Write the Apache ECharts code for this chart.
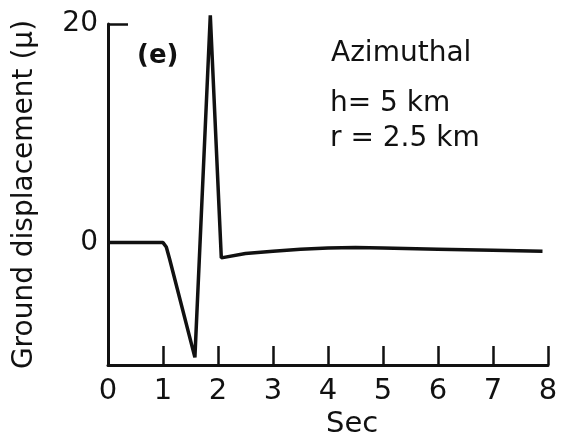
<!DOCTYPE html>
<html>
<head>
<meta charset="utf-8">
<script src="https://cdn.jsdelivr.net/npm/echarts@6/dist/echarts.min.js"></script>
<style>
  html, body { margin: 0; padding: 0; background: #fff; }
  #chart { width: 561px; height: 440px; }
</style>
</head>
<body>
<div id="chart"></div>
<script>
const timeSec = [0, 1.0, 1.06, 1.12, 1.58, 1.86, 2.06, 2.5, 3.0, 3.5, 4.0, 4.5, 5.0, 6.0, 7.0, 7.9];
const displacement = [0, 0, -0.4, -1.5, -10.5, 20.8, -1.4, -1.0, -0.8, -0.6, -0.5, -0.45, -0.5, -0.6, -0.7, -0.8];
const xTicks = [0, 1, 2, 3, 4, 5, 6, 7, 8];
const yLabels = [0, 20];

const font = '"DejaVu Sans", "Liberation Sans", sans-serif';
const chart = echarts.init(document.getElementById('chart'));

const trace = timeSec.map((t, i) => [t, displacement[i]]);

chart.setOption({
  backgroundColor: '#fff',
  animation: false,
  grid: { left: 108, right: 13, top: 24, bottom: 75, containLabel: false, outerBoundsMode: 'none' },
  xAxis: {
    type: 'value',
    min: xTicks[0],
    max: xTicks[xTicks.length - 1],
    interval: 1,
    splitLine: { show: false },
    axisLine: { onZero: false, lineStyle: { color: '#111', width: 3 } },
    axisTick: { inside: true, length: 19, lineStyle: { color: '#111', width: 2.5 } },
    axisLabel: { color: '#111', fontSize: 29, fontFamily: font, margin: 12 }
  },
  yAxis: {
    type: 'value',
    min: -11.2,
    max: 20,
    name: 'Ground displacement (μ)',
    nameLocation: 'middle',
    nameRotate: 90,
    nameGap: 69,
    nameTextStyle: { color: '#111', fontSize: 28, fontFamily: font },
    splitLine: { show: false },
    axisLine: { lineStyle: { color: '#111', width: 3 } },
    axisTick: { inside: true, length: 20, customValues: [20], lineStyle: { color: '#111', width: 2.5 } },
    axisLabel: { color: '#111', fontSize: 28, fontFamily: font, margin: 10, customValues: yLabels }
  },
  graphic: [
    { type: 'text', left: 137, top: 43, style: { text: '(e)', fontSize: 26, fontWeight: 'bold', fontFamily: font, fill: '#111' } },
    { type: 'text', left: 331, top: 40, style: { text: 'Azimuthal', fontSize: 28, fontFamily: font, fill: '#111' } },
    { type: 'text', left: 330, top: 90, style: { text: 'h= 5 km', fontSize: 28, fontFamily: font, fill: '#111' } },
    { type: 'text', left: 330, top: 125, style: { text: 'r = 2.5 km', fontSize: 28, fontFamily: font, fill: '#111' } },
    { type: 'text', left: 326, top: 410, style: { text: 'Sec', fontSize: 29, fontFamily: font, fill: '#111' } }
  ],
  series: [{
    type: 'line',
    data: trace,
    symbol: 'none',
    clip: false,
    lineStyle: { color: '#111', width: 3.5 }
  }]
});
</script>
</body>
</html>
